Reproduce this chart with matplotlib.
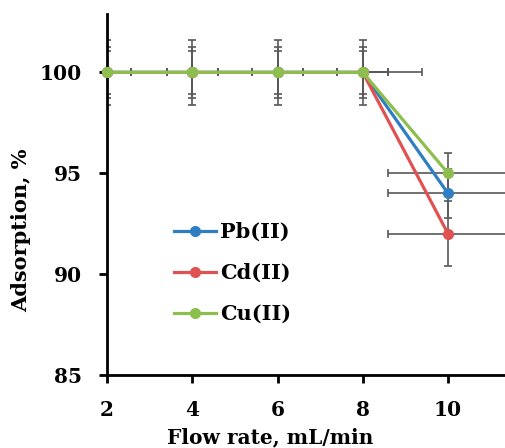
import matplotlib.pyplot as plt

flow = [2, 4, 6, 8, 10]
pb = [100, 100, 100, 100, 94]
cd = [100, 100, 100, 100, 92]
cu = [100, 100, 100, 100, 95]

pb_yerr = [1.25, 1.25, 1.25, 1.25, 1.2]
cd_yerr = [1.6, 1.6, 1.6, 1.6, 1.6]
cu_yerr = [1.05, 1.05, 1.05, 1.05, 1.0]

pb_xerr = [0.55, 0.6, 0.6, 1.4, 1.4]
cd_xerr = [0.55, 0.6, 0.6, 0.6, 1.4]
cu_xerr = [0.55, 0.6, 0.6, 0.6, 1.4]

names = ['Pb(II)', 'Cd(II)', 'Cu(II)']
colors = ['#2E7EC1', '#E05252', '#8DBF4E']

plt.rcParams['font.family'] = 'DejaVu Serif'
plt.rcParams['font.weight'] = 'bold'

fig = plt.figure(figsize=(5.05, 4.48), dpi=100)
ax = fig.add_axes([0.212, 0.163, 0.79, 0.806])

series = [(pb, pb_yerr, pb_xerr), (cd, cd_yerr, cd_xerr), (cu, cu_yerr, cu_xerr)]
# error bars first, lines on top
for y, ye, xe in series:
    ax.errorbar(flow, y, yerr=ye, xerr=xe, fmt='none', ecolor='#595959',
                elinewidth=1.2, capsize=2.8, capthick=1.2, zorder=2)
for (y, ye, xe), n, c in zip(series, names, colors):
    ax.plot(flow, y, color=c, lw=2.3, marker='o', ms=7, label=n, zorder=3,
            clip_on=False)

ax.set_xlim(2, 11.36)
ax.set_ylim(85, 102.9)
ax.set_xticks(flow)
ax.set_yticks([85, 90, 95, 100])
for s in ['top', 'right']:
    ax.spines[s].set_visible(False)
for s in ['left', 'bottom']:
    ax.spines[s].set_linewidth(2)
ax.tick_params(direction='out', width=2, length=6, labelsize=14.5, pad=12)

ax.set_xlabel('Flow rate, mL/min', fontsize=14.5, fontweight='bold')
ax.set_ylabel('Adsorption, %', fontsize=15, fontweight='bold')
ax.xaxis.set_label_coords(0.41, -0.145)
ax.yaxis.set_label_coords(-0.19, 0.40)

ax.legend(loc='upper left', bbox_to_anchor=(0.122, 0.475), frameon=False,
          fontsize=15, handlelength=2, handletextpad=0.2, labelspacing=1.0)

fig.savefig('out.png', dpi=100)
